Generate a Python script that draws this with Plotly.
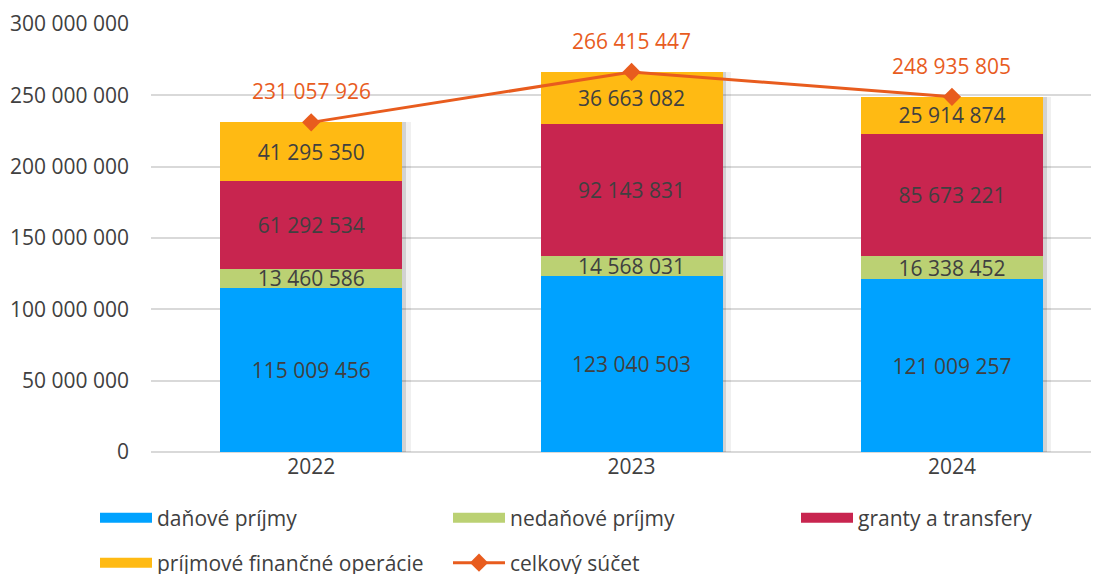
import plotly.graph_objects as go

years = ["2022", "2023", "2024"]
danove = [115009456, 123040503, 121009257]
nedanove = [13460586, 14568031, 16338452]
granty = [61292534, 92143831, 85673221]
financne = [41295350, 36663082, 25914874]
celkovy = [231057926, 266415447, 248935805]

names = ["daňové príjmy", "nedaňové príjmy", "granty a transfery",
         "príjmové finančné operácie", "celkový súčet"]
colors = ["#00A2FF", "#BBD173", "#C8254F", "#FFBA13", "#E85C1E"]

FONT = "Open Sans"
TXT = "#404040"
FS = 21

# page has an 8px body margin: figure is drawn 8px right/down
W, H = 1091, 566
OFF = 8
BARW = 0.568
MAIN = "x3"

fig = go.Figure()

# soft shadow to the right of each bar column (drawn on lower subplots, behind bars)
for ax, dx, alpha in [("x", 0.026, 0.06), ("x2", 0.012, 0.12)]:
    fig.add_trace(go.Bar(
        x=years, y=celkovy, xaxis=ax, yaxis="y", width=BARW,
        offset=-BARW / 2 + dx, marker=dict(color=f"rgba(0,0,0,{alpha})", line=dict(width=0)),
        showlegend=False, hoverinfo="skip",
    ))

series = [danove, nedanove, granty, financne]
legend_ids = ["legend", "legend2", "legend3", "legend4", "legend5"]
for vals, name, col in zip(series, names[:4], colors[:4]):
    fig.add_trace(go.Bar(
        x=years, y=vals, name=name, xaxis=MAIN, yaxis="y",
        marker=dict(color=col, line=dict(width=0)),
        texttemplate="%{y:,}", textposition="inside", insidetextanchor="middle",
        textfont=dict(family=FONT, size=FS, color=TXT), textangle=0,
        showlegend=False,
    ))

fig.add_trace(go.Scatter(
    x=years, y=celkovy, name=names[4], mode="lines+markers", xaxis=MAIN, yaxis="y",
    line=dict(color=colors[4], width=3),
    marker=dict(symbol="diamond", size=14, color=colors[4]),
    showlegend=False,
))

# legend entries (wide swatches like the original)
for name, col, lg in zip(names[:4], colors[:4], legend_ids[:4]):
    fig.add_trace(go.Scatter(x=[None], y=[None], name=name, mode="lines", xaxis=MAIN,
                             line=dict(color=col, width=14), legend=lg))
fig.add_trace(go.Scatter(x=[None], y=[None], name=names[4], mode="lines+markers", xaxis=MAIN,
                         line=dict(color=colors[4], width=3),
                         marker=dict(symbol="diamond", size=14, color=colors[4]),
                         legend=legend_ids[4]))

for i, v in enumerate(celkovy):
    fig.add_annotation(x=i, y=v, xref=MAIN, yref="y", text=f"{v:,}".replace(",", " "),
                       showarrow=False, yshift=31,
                       font=dict(family=FONT, size=FS, color=colors[4]))

leg_x = [87, 440, 788, 87, 440]
leg_y = [518, 518, 518, 563, 563]
leg_layout = {}
for lid, lx, ly in zip(legend_ids, leg_x, leg_y):
    leg_layout[lid] = dict(orientation="h", xref="container", yref="container",
                           x=lx / W, y=1 - (ly - OFF) / H,
                           xanchor="left", yanchor="middle",
                           itemwidth=52, font=dict(family=FONT, size=FS, color=TXT),
                           bgcolor="rgba(0,0,0,0)")

XR = [-0.5, 2.459]
fig.update_layout(
    width=W, height=H,
    barmode="stack", bargap=1 - BARW,
    separators=". ",
    paper_bgcolor="white", plot_bgcolor="white",
    margin=dict(l=151 - OFF, r=0, t=24 - OFF, b=574 - 452),
    font=dict(family=FONT, size=FS, color=TXT),
    uniformtext=dict(minsize=FS, mode="show"),
    xaxis=dict(type="category", range=XR, showgrid=False, automargin=False,
               showline=False, ticks="", tickfont=dict(size=FS, color=TXT)),
    xaxis2=dict(type="category", range=XR, overlaying="x", visible=False,
                automargin=False, showgrid=False),
    xaxis3=dict(type="category", range=XR, overlaying="x", visible=False,
                automargin=False, showgrid=False),
    yaxis=dict(range=[0, 300e6], dtick=50e6, tickformat=",", automargin=False,
               showgrid=True, gridcolor="#D9D9D9", gridwidth=1.5,
               zeroline=True, zerolinecolor="#D9D9D9", zerolinewidth=1.5,
               showline=False, ticks="", ticklabelstandoff=21,
               tickfont=dict(size=FS, color=TXT)),
    **leg_layout,
)

fig.write_html("out.html")
